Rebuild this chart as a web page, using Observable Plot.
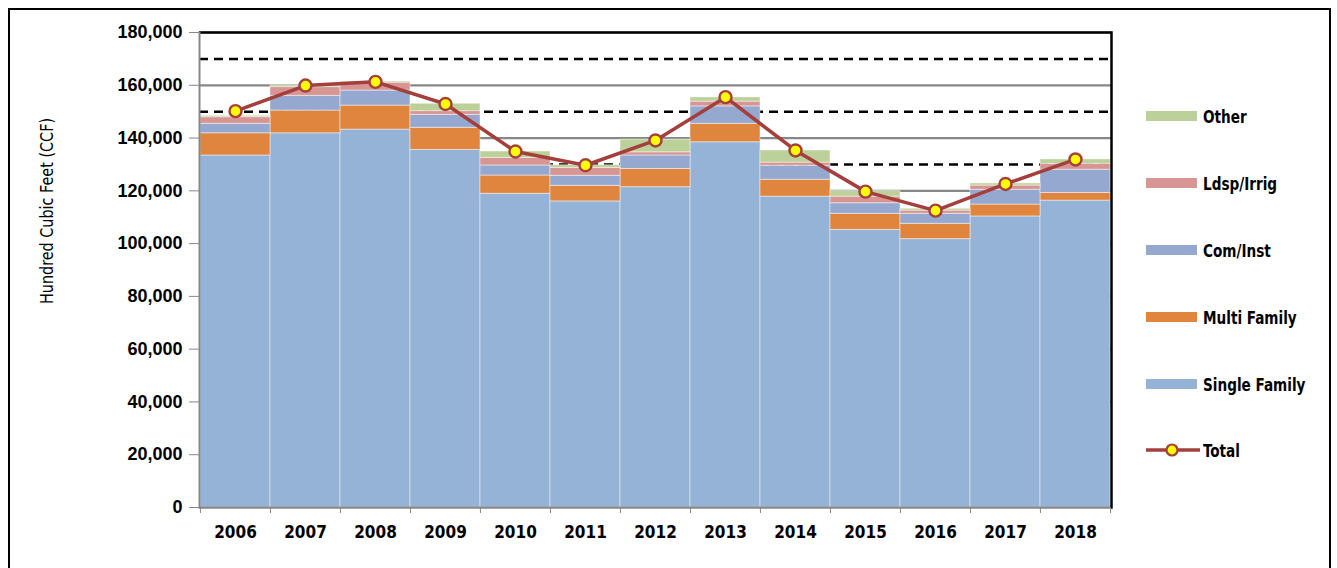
<!DOCTYPE html>
<html>
<head>
<meta charset="utf-8">
<script src="https://cdn.jsdelivr.net/npm/d3@7"></script>
<script src="https://cdn.jsdelivr.net/npm/@observablehq/plot@0.6"></script>
<style>
  html, body { margin: 0; padding: 0; background: #fff; }
  #wrap { position: relative; width: 1337px; height: 568px; overflow: hidden; }
  #border { position: absolute; left: 8px; top: 8px; width: 1323px; height: 600px; border: 2px solid #000; box-sizing: border-box; pointer-events: none; }
  #ylabel { position: absolute; left: 47px; top: 211px; transform: translate(-50%, -50%) rotate(-90deg) scaleY(1.1); white-space: nowrap;
            font-family: "Liberation Sans Narrow", "DejaVu Sans Condensed", sans-serif; font-size: 16px; color: #000; }
  .leg { position: absolute; left: 1146px; height: 20px; display: flex; align-items: center;
         font-family: "Liberation Sans Narrow", "DejaVu Sans Condensed", sans-serif; font-weight: bold; font-size: 18px; color: #000; }
  .leg span { display: inline-block; transform: scaleX(0.84); transform-origin: 0 50%; white-space: nowrap; }
  .sw { width: 51px; height: 10px; margin-right: 6px; }
</style>
</head>
<body>
<div id="wrap">
  <div id="chart"></div>
  <div id="ylabel">Hundred Cubic Feet (CCF)</div>
  <div id="legend"></div>
  <div id="border"></div>
</div>
<script>
// ---- data ----
const years = ["2006","2007","2008","2009","2010","2011","2012","2013","2014","2015","2016","2017","2018"];
const seriesNames = ["Single Family", "Multi Family", "Com/Inst", "Ldsp/Irrig", "Other"];
const singleFamily = [133400, 141800, 143200, 135500, 118900, 116000, 121400, 138400, 117800, 105200, 101700, 110300, 116300];
const multiFamily  = [8400, 8600, 9100, 8400, 6900, 5900, 6900, 7000, 6400, 6100, 5800, 4500, 2900];
const comInst      = [3600, 5600, 5700, 4900, 3800, 3800, 5100, 6600, 5300, 4000, 3800, 5600, 8800];
const ldspIrrig    = [2500, 3300, 3000, 1400, 2900, 3000, 1200, 1800, 1200, 2500, 1200, 1600, 2200];
const other        = [500, 700, 400, 2800, 2400, 1000, 4800, 1600, 4600, 2100, 700, 800, 1700];
const total        = [150200, 159900, 161300, 152900, 134900, 129700, 139100, 155500, 135300, 119700, 112500, 122600, 131900];
const yTicks = [0, 20000, 40000, 60000, 80000, 100000, 120000, 140000, 160000, 180000];
const dashLevels = [110000, 130000, 150000, 170000];
const colors = ["#95B3D7", "#DF853D", "#95A8D0", "#D79594", "#BCD19A"];
const lineColor = "#A43F3B";

const seriesValues = [singleFamily, multiFamily, comInst, ldspIrrig, other];
const stackData = [];
seriesNames.forEach((s, i) => years.forEach((y, j) => stackData.push({year: y, series: s, value: seriesValues[i][j]})));
const totalData = years.map((y, j) => ({year: y, total: total[j]}));

const W = 1337, H = 568, ML = 199, MR = 226, MT = 32, MB = 61;
const half = (W - ML - MR) / years.length / 2;
const narrow = "'Liberation Sans Narrow', 'DejaVu Sans Condensed', sans-serif";

const chart = Plot.plot({
  width: W, height: H,
  marginLeft: ML, marginRight: MR, marginTop: MT, marginBottom: MB,
  style: {background: "transparent", overflow: "visible"},
  x: {type: "band", domain: years, padding: 0, label: null},
  y: {domain: [0, 180000], label: null},
  color: {domain: seriesNames, range: colors},
  marks: [
    Plot.ruleY(yTicks, {stroke: "#878787", strokeWidth: 2.2}),
    Plot.ruleY(dashLevels, {stroke: "#000", strokeWidth: 2.5, strokeDasharray: "9,6"}),
    Plot.barY(stackData, {x: "year", y: "value", fill: "series", order: seriesNames,
      stroke: "#ffffff", strokeOpacity: 0.45, strokeWidth: 1, inset: 0}),
    Plot.ruleY([180000], {stroke: "#000", strokeWidth: 2.5}),
    Plot.ruleY([0], {stroke: "#878787", strokeWidth: 2}),
    Plot.frame({anchor: "left", stroke: "#878787", strokeWidth: 2}),
    Plot.frame({anchor: "right", stroke: "#000", strokeWidth: 2.5}),
    Plot.axisY({ticks: yTicks, tickFormat: d3.format(","), tickSize: 10, tickPadding: 7, stroke: "#878787",
      fontSize: 18, fontWeight: "bold", fontFamily: "'Liberation Sans', Arial, sans-serif", fill: "#000", label: null}),
    Plot.axisX({tickSize: 0, tickPadding: 18, fontSize: 17, fontWeight: "bold", fontFamily: narrow, fill: "#000", label: null}),
    Plot.axisX({tickSize: 6, tickFormat: () => "", dx: -half, stroke: "#878787", label: null}),
    Plot.axisX({ticks: [years[years.length - 1]], tickSize: 6, tickFormat: () => "", dx: half, stroke: "#878787", label: null}),
    Plot.line(totalData, {x: "year", y: "total", stroke: lineColor, strokeWidth: 3.5}),
    Plot.dot(totalData, {x: "year", y: "total", r: 6, fill: "#FFFF00", stroke: lineColor, strokeWidth: 2.4})
  ]
});
document.getElementById("chart").appendChild(chart);

// legend (HTML)
const legendY = [116, 183, 250, 317, 384];
const legendOrder = ["Other", "Ldsp/Irrig", "Com/Inst", "Multi Family", "Single Family"];
const leg = document.getElementById("legend");
legendOrder.forEach((name, i) => {
  const d = document.createElement("div");
  d.className = "leg";
  d.style.top = (legendY[i] - 10) + "px";
  const sw = document.createElement("div");
  sw.className = "sw";
  sw.style.background = colors[seriesNames.indexOf(name)];
  d.appendChild(sw);
  const sp = document.createElement("span");
  sp.textContent = name;
  d.appendChild(sp);
  leg.appendChild(d);
});
const t = document.createElement("div");
t.className = "leg";
t.style.top = (450 - 10) + "px";
t.innerHTML = `<svg width="54" height="20" style="margin-right:3px"><line x1="0" y1="10" x2="54" y2="10" stroke="${lineColor}" stroke-width="3.5"/><circle cx="26" cy="10" r="5.5" fill="#FFFF00" stroke="${lineColor}" stroke-width="2.2"/></svg><span>Total</span>`;
leg.appendChild(t);
</script>
</body>
</html>
